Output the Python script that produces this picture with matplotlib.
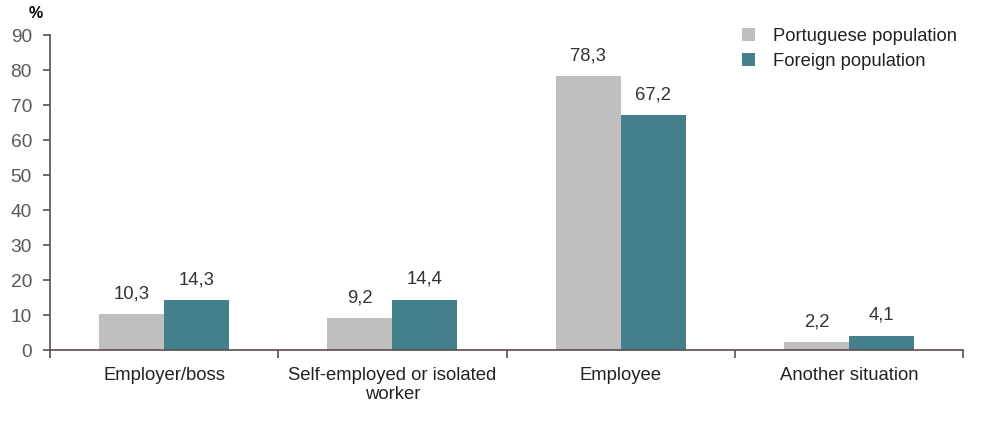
import matplotlib.pyplot as plt
import numpy as np

# data
categories = ['Employer/boss', 'Self-employed or isolated\nworker', 'Employee', 'Another situation']
portuguese = [10.3, 9.2, 78.3, 2.2]
foreign = [14.3, 14.4, 67.2, 4.1]
series_names = ['Portuguese population', 'Foreign population']

grey = '#bfbfbf'
teal = '#43808c'
axis_col = '#5b4d50'

plt.rcParams['font.family'] = ['Liberation Sans', 'DejaVu Sans']

fig = plt.figure(figsize=(10, 4.22), dpi=100)
ax = fig.add_axes([0.05, 0.1706, 0.913, 0.7464])

x = np.arange(len(categories))
w = 0.285
b1 = ax.bar(x - w / 2, portuguese, width=w, color=grey, label=series_names[0])
b2 = ax.bar(x + w / 2, foreign, width=w, color=teal, label=series_names[1])

# labels above the bars, decimal comma
for bars, vals in [(b1, portuguese), (b2, foreign)]:
    for r, v in zip(bars, vals):
        ax.annotate(f'{v:.1f}'.replace('.', ','), (r.get_x() + r.get_width() / 2, v),
                    xytext=(0, 8.5), textcoords='offset points', ha='center', va='bottom',
                    fontsize=13.3, color='#333333')

ax.set_xlim(-0.5, len(categories) - 0.5)
ax.set_ylim(0, 90)
ax.set_yticks(range(0, 91, 10))
ax.set_xticks(x)
ax.set_xticklabels(categories, fontsize=13.3, color='#222222', linespacing=1.15)
ax.set_xticks(np.arange(-0.5, len(categories), 1), minor=True)
ax.tick_params(axis='x', which='major', length=0, pad=12)
ax.tick_params(axis='x', which='minor', length=6, width=1.2, color=axis_col, direction='out')
ax.tick_params(axis='y', length=5, width=1.2, color=axis_col, labelsize=13.8, labelcolor='#595959', pad=8)

for s in ['top', 'right']:
    ax.spines[s].set_visible(False)
for s in ['left', 'bottom']:
    ax.spines[s].set_color(axis_col)
    ax.spines[s].set_linewidth(1.2)

ax.text(-0.016, 1.045, '%', transform=ax.transAxes, fontsize=11.5, fontweight='bold', ha='center', va='bottom')

ax.legend(loc='upper right', bbox_to_anchor=(1.012, 1.075), frameon=False, fontsize=13.2,
          handlelength=0.7, handleheight=0.7, handletextpad=1.0, labelspacing=0.45, labelcolor='#222222')

plt.savefig('out.png', dpi=100)
